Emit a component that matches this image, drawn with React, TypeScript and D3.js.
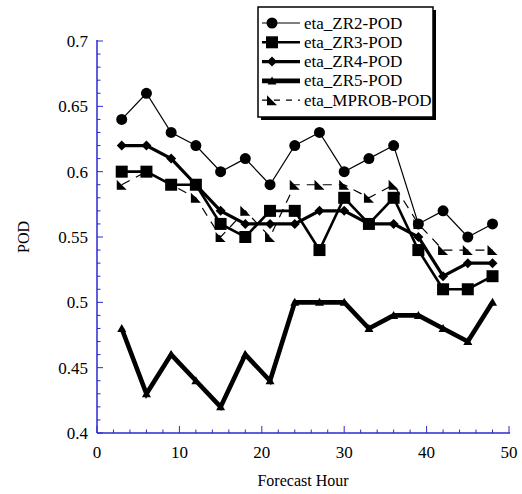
import React from "react";
import * as d3 from "d3";

const hours = [3, 6, 9, 12, 15, 18, 21, 24, 27, 30, 33, 36, 39, 42, 45, 48];
const zr2 = [0.64, 0.66, 0.63, 0.62, 0.60, 0.61, 0.59, 0.62, 0.63, 0.60, 0.61, 0.62, 0.56, 0.57, 0.55, 0.56];
const zr3 = [0.60, 0.60, 0.59, 0.59, 0.56, 0.55, 0.57, 0.57, 0.54, 0.58, 0.56, 0.58, 0.54, 0.51, 0.51, 0.52];
const zr4 = [0.62, 0.62, 0.61, 0.59, 0.57, 0.56, 0.56, 0.56, 0.57, 0.57, 0.56, 0.56, 0.55, 0.52, 0.53, 0.53];
const zr5 = [0.48, 0.43, 0.46, 0.44, 0.42, 0.46, 0.44, 0.50, 0.50, 0.50, 0.48, 0.49, 0.49, 0.48, 0.47, 0.50];
const mprob = [0.59, 0.60, 0.59, 0.58, 0.55, 0.57, 0.55, 0.59, 0.59, 0.59, 0.58, 0.59, 0.56, 0.54, 0.54, 0.54];
const seriesNames = ["eta_ZR2-POD", "eta_ZR3-POD", "eta_ZR4-POD", "eta_ZR5-POD", "eta_MPROB-POD"];
const yTicks = [0.4, 0.45, 0.5, 0.55, 0.6, 0.65, 0.7];
const xTicks = [0, 10, 20, 30, 40, 50];

const W = 522, H = 494;
const L = 97, R = 509, T = 41, B = 433;
const AX = "#2a2ad0";
const FONT = '"Liberation Serif", "DejaVu Serif", serif';

type Kind = "circle" | "square" | "diamond" | "triangle" | "arrow";

function Marker({ kind, x, y }: { kind: Kind; x: number; y: number }) {
  if (kind === "circle") return <circle cx={x} cy={y} r={5.5} fill="#000" />;
  if (kind === "square") return <rect x={x - 6} y={y - 6} width={12} height={12} fill="#000" />;
  if (kind === "diamond")
    return <path d={`M${x - 5},${y}L${x},${y - 5}L${x + 5},${y}L${x},${y + 5}Z`} fill="#000" />;
  if (kind === "triangle")
    return <path d={`M${x - 4.5},${y + 3.5}L${x},${y - 4.5}L${x + 4.5},${y + 3.5}Z`} fill="#000" />;
  return <path d={`M${x - 5},${y - 5}L${x - 5},${y + 5}L${x + 5},${y + 5}Z`} fill="#000" />;
}

export default function App() {
  const x = d3.scaleLinear().domain([0, 50]).range([L, R]);
  const y = d3.scaleLinear().domain([0.4, 0.7]).range([B, T]);
  const series: { vals: number[]; kind: Kind; width: number; dash?: string }[] = [
    { vals: zr2, kind: "circle", width: 1.2 },
    { vals: zr3, kind: "square", width: 2.6 },
    { vals: zr4, kind: "diamond", width: 3.2 },
    { vals: zr5, kind: "triangle", width: 4.6 },
    { vals: mprob, kind: "arrow", width: 1.2, dash: "9,7" },
  ];
  const line = d3
    .line<number>()
    .x((_, i) => x(hours[i]))
    .y((v) => y(v));

  const yMinor = d3.range(40, 71).map((v) => v / 100);
  const xMinor = d3.range(0, 51, 2);

  const lgX = 258, lgY = 7, lgW = 175, lgH = 110;
  const rowY = (i: number) => lgY + 16 + i * 19.3;
  const textStyle = { fontFamily: FONT };

  return (
    <svg width={W} height={H} style={{ position: "absolute", left: 0, top: 0, background: "#fff" }}>
      <g stroke={AX} strokeWidth={1.5}>
        <line x1={L} y1={T - 1} x2={L} y2={B} />
        <line x1={L} y1={B} x2={R + 1} y2={B} />
        {yMinor.map((v, i) => {
          const major = Math.round(v * 100) % 5 === 0;
          return <line key={"ym" + i} x1={L} x2={L + (major ? 6 : 3.5)} y1={y(v)} y2={y(v)} strokeWidth={1} />;
        })}
        {xMinor.map((v) => {
          const major = v % 10 === 0;
          return <line key={"xm" + v} x1={x(v)} x2={x(v)} y1={B} y2={B - (major ? 7 : 3.5)} strokeWidth={1} />;
        })}
      </g>
      <g style={textStyle} fontSize={17} fill="#000">
        {yTicks.map((v) => (
          <text key={"yl" + v} x={L - 9} y={y(v) + 6} textAnchor="end" style={textStyle}>
            {String(v)}
          </text>
        ))}
        {xTicks.map((v) => (
          <text key={"xl" + v} x={x(v)} y={B + 25} textAnchor="middle" style={textStyle}>
            {String(v)}
          </text>
        ))}
        <text x={(L + R) / 2} y={486} textAnchor="middle" fontSize={16} style={textStyle}>
          Forecast Hour
        </text>
        <text transform={`translate(29,${(T + B) / 2}) rotate(-90)`} textAnchor="middle" fontSize={16} style={textStyle}>
          POD
        </text>
      </g>
      {series.map((s, si) => (
        <g key={"s" + si}>
          <path d={line(s.vals) || ""} fill="none" stroke="#000" strokeWidth={s.width} strokeDasharray={s.dash} strokeLinejoin="miter" />
          {s.vals.map((v, i) => (
            <Marker key={i} kind={s.kind} x={x(hours[i])} y={y(v)} />
          ))}
        </g>
      ))}
      <rect x={lgX + 3} y={lgY + 3} width={lgW} height={lgH} fill="#000" />
      <rect x={lgX} y={lgY} width={lgW} height={lgH} fill="#fff" stroke="#000" strokeWidth={1.5} />
      {series.map((s, i) => (
        <g key={"lg" + i}>
          <line x1={lgX + 4} x2={lgX + 42} y1={rowY(i)} y2={rowY(i)} stroke="#000" strokeWidth={s.width} strokeDasharray={s.dash ? "6,6" : undefined} />
          <Marker kind={s.kind} x={lgX + 14} y={rowY(i)} />
          <text x={lgX + 46} y={rowY(i) + 5.5} fontSize={17} style={textStyle}>
            {seriesNames[i]}
          </text>
        </g>
      ))}
    </svg>
  );
}
